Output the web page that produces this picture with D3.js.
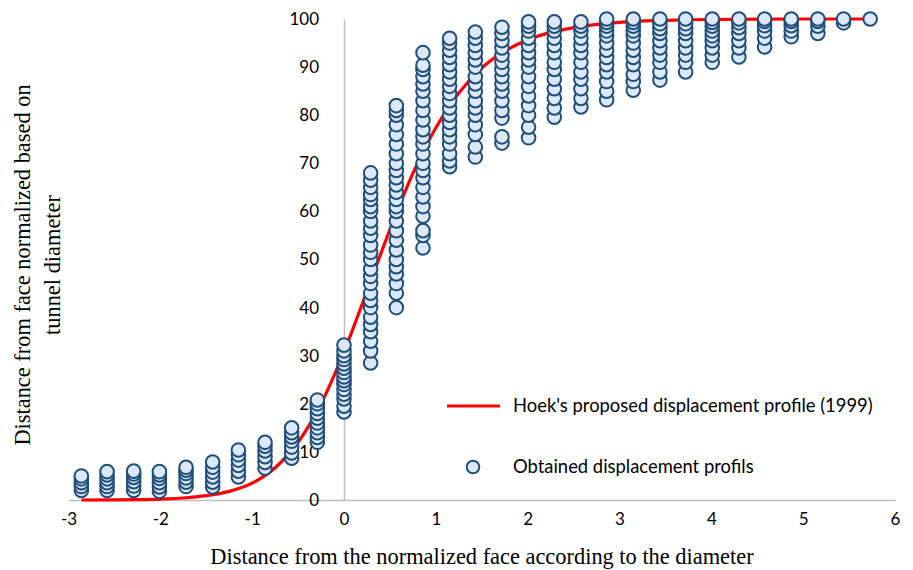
<!DOCTYPE html>
<html>
<head>
<meta charset="utf-8">
<script src="https://cdn.jsdelivr.net/npm/d3@7"></script>
<style>
  html, body { margin: 0; padding: 0; background: #ffffff; }
  svg { display: block; }
</style>
</head>
<body>
<svg id="chart" width="913" height="570"></svg>
<script>
// ---- Data ----
const xTicks = [-3, -2, -1, 0, 1, 2, 3, 4, 5, 6];
const yTicks = [0, 10, 20, 30, 40, 50, 60, 70, 80, 90, 100];

// Hoek's proposed displacement profile (1999)
const hoekX = [-2.86, -2.5, -2.25, -2, -1.75, -1.5, -1.25, -1, -0.75, -0.5, -0.25, 0, 0.25, 0.5, 0.75, 1, 1.25, 1.5, 1.75, 2, 2.5, 3, 3.5, 4, 5, 5.73];
const hoekY = [0, 0.04, 0.09, 0.2, 0.42, 0.9, 1.8, 3.5, 6.7, 12.0, 20.0, 30.8, 43.4, 56.2, 67.9, 77.4, 84.6, 89.8, 93.3, 95.7, 98.2, 99.3, 99.7, 99.9, 100, 100];

// Obtained displacement profiles: one column of values per face distance
const obsX = [-2.86, -2.58, -2.29, -2.01, -1.72, -1.43, -1.15, -0.86, -0.57, -0.29,
              0, 0.29, 0.57, 0.86, 1.15, 1.43, 1.72, 2.01, 2.29, 2.58,
              2.86, 3.15, 3.44, 3.72, 4.01, 4.30, 4.58, 4.87, 5.16, 5.44, 5.73];
const obsValues = [
  [2, 2.8, 3.6, 4.4, 5],
  [2, 2.8, 3.6, 4.4, 5.2, 5.9],
  [2, 2.9, 3.8, 4.7, 5.4, 6],
  [1.8, 2.7, 3.6, 4.5, 5.2, 5.9],
  [2.8, 3.7, 4.6, 5.5, 6.2, 6.8],
  [2.7, 3.7, 4.8, 5.8, 6.8, 7.9],
  [4.8, 6, 7.2, 8.3, 9.4, 10.4],
  [6.6, 7.8, 9, 10.2, 11.2, 12],
  [8.7, 9.8, 11, 12.2, 13.1, 14, 15],
  [12, 13, 14, 15, 16, 17, 18, 19, 20, 20.8],
  [18.3, 19.5, 21, 22, 23, 24, 24.8, 25.6, 26.5, 27.4, 28.3, 29.2, 30, 31, 32.2],
  [28.5, 31, 33, 35, 36.5, 38, 40, 41.5, 43, 45, 46.5, 48, 50, 51.5, 53, 55, 56.5, 58, 60, 61, 62.5, 63.5, 65, 66.5, 68],
  [40, 43, 45, 47, 48.5, 50, 52, 54, 56, 58, 60, 61, 62.5, 64, 65.5, 67, 68.5, 70, 72, 74, 76, 78, 80, 81, 82],
  [52.4, 55, 56, 59, 61, 63, 65, 67, 68.5, 70, 72, 74, 75.5, 77, 79, 81, 83, 85, 86.5, 88, 89.5, 90.4, 93],
  [69.3, 70.5, 72, 74, 75.5, 77, 78.5, 80, 81.5, 83, 84.5, 86, 87.5, 89, 90.5, 92, 93.5, 95, 96],
  [71.3, 73.4, 76, 78, 80, 81.5, 83, 85, 86.5, 88, 90, 91.5, 93, 94.5, 96, 97.3],
  [74.2, 75.5, 79.4, 81, 83, 85, 86.5, 88, 89.5, 91, 92.5, 94, 95.5, 97, 98.3],
  [75.3, 77.5, 80, 82, 84, 86, 88, 90, 91.5, 93, 94.5, 96, 97.5, 98.5, 99.4],
  [79.6, 81.5, 83.5, 85.5, 87.5, 89.5, 91, 93, 94.5, 96, 97.5, 98.5, 99.4],
  [81.7, 83.5, 85.5, 87.5, 89, 91, 93, 94.5, 96, 97.5, 98.5, 99.4],
  [83.2, 85, 87, 89, 90.5, 92, 93.5, 95, 96.5, 97.5, 98.5, 99.3, 100],
  [85.2, 87, 88.5, 90.5, 92, 93.5, 95, 96.5, 97.5, 98.5, 99.3, 100],
  [87.3, 89, 91, 92.5, 94, 95.5, 97, 98, 99, 100],
  [89, 91, 92.5, 94, 95.5, 97, 98, 99, 100],
  [91, 92.5, 94, 95.5, 96.5, 97.5, 98.5, 99.3, 100],
  [92.1, 94, 95.5, 97, 98.2, 99.2, 100],
  [94.2, 96, 97.5, 98.6, 99.5, 100],
  [96.3, 97.5, 98.6, 99.5, 100],
  [97, 98.5, 99.5, 100],
  [99.2, 100],
  [100]
];

const lineLabel = "Hoek's proposed displacement profile (1999)";
const pointLabel = "Obtained displacement profils";
const xTitle = "Distance from the normalized face according to the diameter";
const yTitleLines = ["Distance from face normalized based on", "tunnel diameter"];

// ---- Drawing ----
const svg = d3.select("#chart");
const x = d3.scaleLinear().domain([-3, 6]).range([68.5, 895]);
const y = d3.scaleLinear().domain([0, 100]).range([500, 19]);

const sansFont = "Lato, 'Open Sans', sans-serif";
const serifFont = "'Liberation Serif', 'DejaVu Serif', serif";
const axisColor = "#bfbfbf";
const tickFmt = d => String(d);

// x axis (horizontal line at y=0)
const xAxis = svg.append("g")
  .attr("transform", `translate(0,${y(0)})`)
  .call(d3.axisBottom(x).tickValues(xTicks).tickSize(0).tickPadding(13).tickFormat(tickFmt));
xAxis.select(".domain").attr("stroke", axisColor).attr("stroke-width", 1.5);
xAxis.selectAll("text").attr("font-family", sansFont).attr("font-size", 17).attr("fill", "#000");

// y axis (vertical line at x=0)
const yAxis = svg.append("g")
  .attr("transform", `translate(${x(0)},0)`)
  .call(d3.axisLeft(y).tickValues(yTicks).tickSize(0).tickPadding(25).tickFormat(tickFmt));
yAxis.select(".domain").attr("stroke", axisColor).attr("stroke-width", 1.5);
yAxis.selectAll("text").attr("font-family", sansFont).attr("font-size", 17).attr("fill", "#000");

// Hoek curve
const hoekData = hoekX.map((d, i) => [d, hoekY[i]]);
svg.append("path")
  .datum(hoekData)
  .attr("fill", "none")
  .attr("stroke", "#ff0000")
  .attr("stroke-width", 3.2)
  .attr("d", d3.line().x(d => x(d[0])).y(d => y(d[1])).curve(d3.curveMonotoneX));

// Obtained points
const pts = [];
obsX.forEach((xv, i) => obsValues[i].forEach(v => pts.push([xv, v])));
svg.append("g").selectAll("circle")
  .data(pts)
  .join("circle")
  .attr("cx", d => x(d[0]))
  .attr("cy", d => y(d[1]))
  .attr("r", 6.8)
  .attr("fill", "#dce8f5")
  .attr("stroke", "#1f4e79")
  .attr("stroke-width", 2);

// Legend
const leg = svg.append("g");
leg.append("line")
  .attr("x1", 447).attr("x2", 500).attr("y1", 406).attr("y2", 406)
  .attr("stroke", "#ff0000").attr("stroke-width", 3.2);
leg.append("text")
  .attr("x", 513).attr("y", 406).attr("dy", "0.35em")
  .attr("font-family", sansFont).attr("font-size", 18.4)
  .text(lineLabel);
leg.append("circle")
  .attr("cx", 473).attr("cy", 467).attr("r", 6.3)
  .attr("fill", "#dce8f5").attr("stroke", "#1f4e79").attr("stroke-width", 2);
leg.append("text")
  .attr("x", 513).attr("y", 467).attr("dy", "0.35em")
  .attr("font-family", sansFont).attr("font-size", 18.4)
  .text(pointLabel);

// Axis titles
svg.append("text")
  .attr("x", 482).attr("y", 564)
  .attr("text-anchor", "middle")
  .attr("font-family", serifFont).attr("font-size", 22.4)
  .text(xTitle);

const yt = svg.append("text")
  .attr("transform", "translate(30,265) rotate(-90)")
  .attr("text-anchor", "middle")
  .attr("font-family", serifFont).attr("font-size", 22.4);
yTitleLines.forEach((t, i) => {
  yt.append("tspan").attr("x", 0).attr("y", i * 30).text(t);
});
</script>
</body>
</html>
